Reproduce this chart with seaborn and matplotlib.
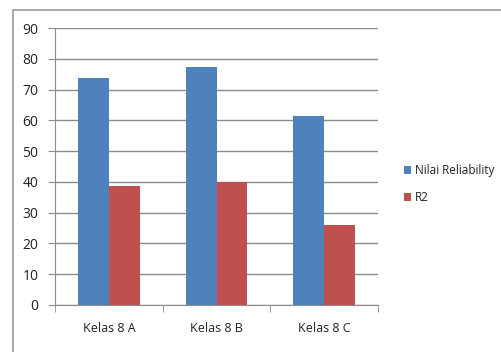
import matplotlib
matplotlib.use("Agg")
import matplotlib.pyplot as plt
from matplotlib.patches import Rectangle
import seaborn as sns
import pandas as pd

# Data
categories = ["Kelas 8 A", "Kelas 8 B", "Kelas 8 C"]
nilai_reliability = [73.8, 77.4, 61.3]
r2 = [38.6, 40.0, 25.9]
series_names = ["Nilai Reliability", "R2"]
y_ticks = [0, 10, 20, 30, 40, 50, 60, 70, 80, 90]

df = pd.DataFrame({
    "Kelas": categories * 2,
    "Nilai": nilai_reliability + r2,
    "Seri": [series_names[0]] * 3 + [series_names[1]] * 3,
})

sns.set_style("white")
plt.rcParams["font.family"] = ["Open Sans", "DejaVu Sans"]

W, H = 501, 352
fig = plt.figure(figsize=(W / 100, H / 100), dpi=100)

# Chart-area frame (only its top and left edges fall inside the figure)
fig.patches.append(Rectangle((13 / W, -0.5), 3.0, 1 - 10 / H + 0.5,
                             transform=fig.transFigure, fill=False,
                             edgecolor="#9a9a9a", linewidth=1.2, zorder=0))

ax = fig.add_axes([55 / W, 1 - 305 / H, (378 - 55) / W, (305 - 28) / H])
palette = {series_names[0]: "#4F81BD", series_names[1]: "#C0504D"}
sns.barplot(data=df, x="Kelas", y="Nilai", hue="Seri", palette=palette,
            width=0.57, gap=0, saturation=1, linewidth=0, ax=ax,
            legend=True, zorder=3)

ax.set_ylim(0, 90)
ax.set_xlim(-0.5, 2.5)
ax.set_yticks(y_ticks)
ax.set_xlabel("")
ax.set_ylabel("")
ax.yaxis.grid(True, color="#8c8c8c", linewidth=1.0, zorder=0)
ax.set_axisbelow(True)

for side in ["top", "right"]:
    ax.spines[side].set_visible(False)
ax.spines["left"].set_color("#8c8c8c")
ax.spines["bottom"].set_color("#8c8c8c")

ax.tick_params(axis="y", which="major", length=5, color="#8c8c8c",
               labelsize=10, pad=7, left=True, labelcolor="#222222")
# category boundary ticks on the x axis
ax.set_xticks([0, 1, 2])
ax.set_xticks([-0.5, 0.5, 1.5, 2.5], minor=True)
ax.tick_params(axis="x", which="major", length=0, labelsize=9, pad=12,
               labelcolor="#222222")
ax.tick_params(axis="x", which="minor", length=5, color="#8c8c8c", bottom=True)

handles, labels = ax.get_legend_handles_labels()
leg = ax.legend(handles, labels, loc="center left",
                bbox_to_anchor=(399 / W, 1 - 184 / H),
                bbox_transform=fig.transFigure, frameon=False, fontsize=8.5,
                handlelength=0.6, handleheight=0.6, handletextpad=0.35,
                labelspacing=1.2, borderaxespad=0)
for t in leg.get_texts():
    t.set_color("#222222")

fig.savefig("out.png", dpi=100)
